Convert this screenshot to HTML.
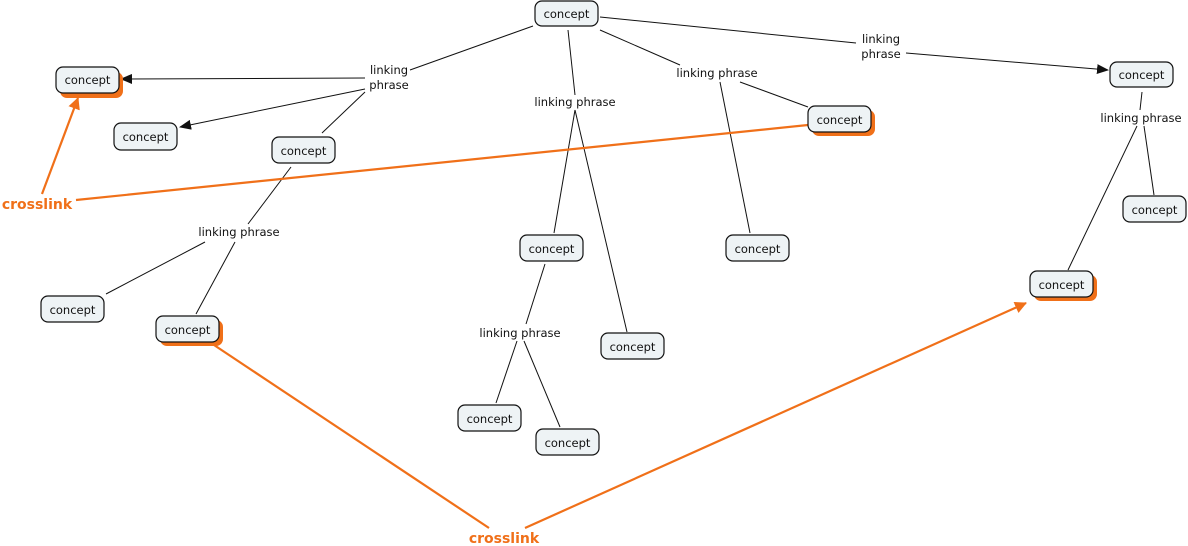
<!DOCTYPE html>
<html><head><meta charset="utf-8"><style>
html,body{margin:0;padding:0;background:#fff;}
svg{display:block;}
text{font-family:"DejaVu Sans","Liberation Sans",sans-serif;font-size:11.5px;fill:#111;}
.n{fill:#eef3f5;stroke:#111;stroke-width:1.2;}
.s{fill:#f07019;}
.l{stroke:#111;stroke-width:1;fill:none;}
.o{stroke:#f07019;stroke-width:2.2;fill:none;}
.x{font-weight:bold;fill:#f07019;font-size:14px;}
</style></head><body>
<svg width="1188" height="546" viewBox="0 0 1188 546" xmlns="http://www.w3.org/2000/svg">
<defs>
<marker id="ab" markerWidth="12" markerHeight="10" refX="11" refY="5" orient="auto" markerUnits="userSpaceOnUse"><path d="M0,0 L12,5 L0,10 Z" fill="#111"/></marker>
<marker id="ao" markerWidth="12" markerHeight="12" refX="11" refY="6" orient="auto" markerUnits="userSpaceOnUse"><path d="M0,0 L12,6 L0,12 Z" fill="#f07019"/></marker>
</defs>
<!-- black links -->
<line class="l" x1="533" y1="26" x2="410" y2="70"/>
<line class="l" x1="365" y1="78" x2="121" y2="79" marker-end="url(#ab)"/>
<line class="l" x1="365" y1="89" x2="180" y2="127" marker-end="url(#ab)"/>
<line class="l" x1="365" y1="92" x2="322" y2="133"/>
<line class="l" x1="568" y1="30" x2="575" y2="95"/>
<line class="l" x1="575" y1="110" x2="554" y2="233"/>
<line class="l" x1="575" y1="110" x2="627" y2="332"/>
<line class="l" x1="600" y1="30" x2="680" y2="65"/>
<line class="l" x1="740" y1="82" x2="808" y2="107"/>
<line class="l" x1="720" y1="82" x2="750" y2="233"/>
<line class="l" x1="600" y1="17" x2="856" y2="43"/>
<line class="l" x1="906" y1="53" x2="1108" y2="70" marker-end="url(#ab)"/>
<line class="l" x1="1142" y1="92" x2="1140" y2="110"/>
<line class="l" x1="1144" y1="126" x2="1154" y2="195"/>
<line class="l" x1="1137" y1="126" x2="1068" y2="270"/>
<line class="l" x1="291" y1="167" x2="248" y2="224"/>
<line class="l" x1="205" y1="242" x2="106" y2="294"/>
<line class="l" x1="235" y1="242" x2="196" y2="314"/>
<line class="l" x1="545" y1="264" x2="526" y2="324"/>
<line class="l" x1="517" y1="341" x2="496" y2="403"/>
<line class="l" x1="524" y1="341" x2="560" y2="427"/>
<!-- crosslinks -->
<line class="o" x1="42" y1="194" x2="78" y2="98" marker-end="url(#ao)"/>
<line class="o" x1="76" y1="200" x2="808" y2="125"/>
<line class="o" x1="489" y1="528" x2="214" y2="345"/>
<line class="o" x1="525" y1="528" x2="1026" y2="303" marker-end="url(#ao)"/>
<!-- shadows -->
<rect class="s" x="60" y="72" width="63" height="26" rx="7"/>
<rect class="s" x="812" y="110" width="63" height="26" rx="7"/>
<rect class="s" x="1034" y="275" width="63" height="26" rx="7"/>
<rect class="s" x="160" y="320" width="63" height="26" rx="7"/>
<!-- nodes -->
<g>
<rect class="n" x="535" y="1" width="63" height="25" rx="7"/><text x="566.5" y="18" text-anchor="middle">concept</text>
<rect class="n" x="56" y="67" width="63" height="26" rx="7"/><text x="87.5" y="84" text-anchor="middle">concept</text>
<rect class="n" x="114" y="123" width="63" height="27" rx="7"/><text x="145.5" y="141" text-anchor="middle">concept</text>
<rect class="n" x="272" y="137" width="63" height="26" rx="7"/><text x="303.5" y="155" text-anchor="middle">concept</text>
<rect class="n" x="1110" y="62" width="63" height="25" rx="7"/><text x="1141.5" y="79" text-anchor="middle">concept</text>
<rect class="n" x="808" y="106" width="63" height="26" rx="7"/><text x="839.5" y="124" text-anchor="middle">concept</text>
<rect class="n" x="1123" y="196" width="63" height="26" rx="7"/><text x="1154.5" y="214" text-anchor="middle">concept</text>
<rect class="n" x="520" y="235" width="63" height="26" rx="7"/><text x="551.5" y="253" text-anchor="middle">concept</text>
<rect class="n" x="726" y="235" width="63" height="26" rx="7"/><text x="757.5" y="253" text-anchor="middle">concept</text>
<rect class="n" x="1030" y="271" width="63" height="26" rx="7"/><text x="1061.5" y="289" text-anchor="middle">concept</text>
<rect class="n" x="41" y="296" width="63" height="26" rx="7"/><text x="72.5" y="314" text-anchor="middle">concept</text>
<rect class="n" x="156" y="316" width="63" height="26" rx="7"/><text x="187.5" y="334" text-anchor="middle">concept</text>
<rect class="n" x="601" y="333" width="63" height="26" rx="7"/><text x="632.5" y="351" text-anchor="middle">concept</text>
<rect class="n" x="458" y="405" width="63" height="26" rx="7"/><text x="489.5" y="423" text-anchor="middle">concept</text>
<rect class="n" x="536" y="429" width="63" height="26" rx="7"/><text x="567.5" y="447" text-anchor="middle">concept</text>
</g>
<!-- linking phrases -->
<text x="389" y="74" text-anchor="middle">linking</text>
<text x="389" y="89" text-anchor="middle">phrase</text>
<text x="575" y="106" text-anchor="middle">linking phrase</text>
<text x="717" y="77" text-anchor="middle">linking phrase</text>
<text x="881" y="43" text-anchor="middle">linking</text>
<text x="881" y="58" text-anchor="middle">phrase</text>
<text x="1141" y="122" text-anchor="middle">linking phrase</text>
<text x="239" y="236" text-anchor="middle">linking phrase</text>
<text x="520" y="337" text-anchor="middle">linking phrase</text>
<text class="x" x="37" y="209" text-anchor="middle">crosslink</text>
<text class="x" x="504" y="543" text-anchor="middle">crosslink</text>
</svg>
</body></html>
